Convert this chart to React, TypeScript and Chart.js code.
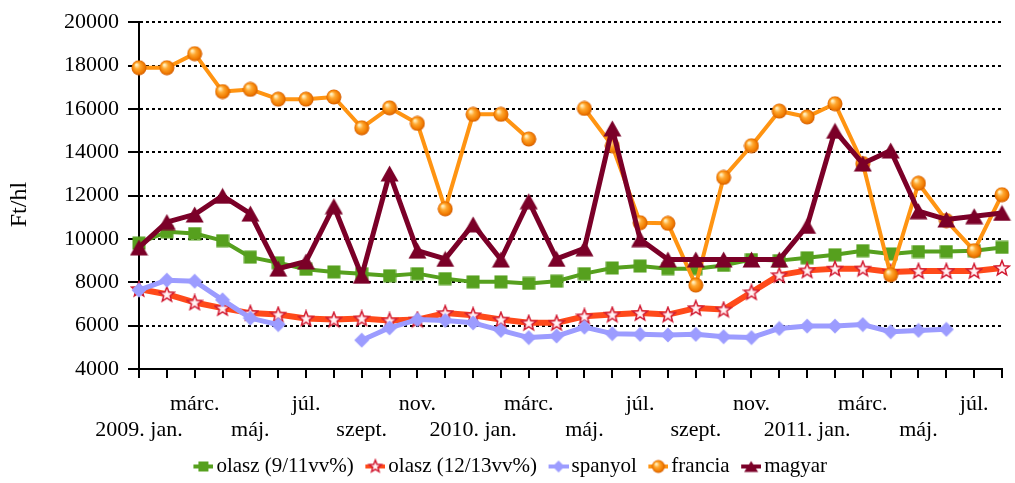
import React, { useEffect, useRef } from 'react';
import { Chart, registerables } from 'chart.js';

Chart.register(...registerables);

const categories = [
  '2009. jan.', 'febr.', 'márc.', 'ápr.', 'máj.', 'jún.', 'júl.', 'aug.', 'szept.', 'okt.', 'nov.', 'dec.',
  '2010. jan.', 'febr.', 'márc.', 'ápr.', 'máj.', 'jún.', 'júl.', 'aug.', 'szept.', 'okt.', 'nov.', 'dec.',
  '2011. jan.', 'febr.', 'márc.', 'ápr.', 'máj.', 'jún.', 'júl.', 'aug.',
];

const olasz911 = [9810, 10330, 10250, 9920, 9160, 8900, 8600, 8480, 8400, 8300, 8400, 8170, 8020, 8020, 7950, 8050, 8400, 8660, 8750, 8630, 8630, 8780, 9050, 9000, 9130, 9270, 9460, 9310, 9420, 9420, 9460, 9610];
const olasz1213 = [7690, 7450, 7070, 6810, 6580, 6510, 6330, 6280, 6330, 6240, 6280, 6580, 6480, 6280, 6130, 6130, 6430, 6510, 6580, 6510, 6810, 6740, 7540, 8330, 8550, 8630, 8630, 8480, 8520, 8520, 8520, 8660];
const spanyol = [7640, 8100, 8050, 7190, 6350, 6050, null, null, 5330, 5900, 6280, 6240, 6130, 5780, 5450, 5520, 5930, 5630, 5600, 5570, 5600, 5490, 5450, 5870, 5980, 5980, 6050, 5720, 5780, 5830, null, null];
const francia = [17900, 17900, 18550, 16800, 16900, 16450, 16450, 16550, 15130, 16050, 15330, 11390, 15750, 15750, 14610, null, 16020, 14300, 10750, 10720, 7870, 12840, 14300, 15900, 15630, 16240, 13480, 8350, 12570, 10850, 9460, 12040];
const magyar = [9610, 10780, 11130, 11990, 11170, 8630, 8960, 11510, 8300, 13020, 9460, 9080, 10670, 9050, 11740, 9080, 9570, 15100, 9990, 9050, 9050, 9050, 9050, 9050, 10600, 14990, 13480, 14080, 11280, 10900, 11050, 11200];

const seriesLabels = ['olasz (9/11vv%)', 'olasz (12/13vv%)', 'spanyol', 'francia', 'magyar'];
const yAxisTitle = 'Ft/hl';
const yMin = 4000;
const yMax = 20000;
const yStep = 2000;

const FONT = "'Liberation Serif', 'Times New Roman', serif";
const GREEN = '#56A01E';
const RED = '#FF4A1A';
const LAVENDER = '#9C9CFF';
const ORANGE = '#FF9412';
const MAROON = '#7B0028';

type Ctx = CanvasRenderingContext2D;

function makeCanvas(w: number, h: number, draw: (ctx: Ctx) => void) {
  const c = document.createElement('canvas');
  c.width = w;
  c.height = h;
  const ctx = c.getContext('2d') as Ctx;
  draw(ctx);
  return c;
}

function square(ctx: Ctx, cx: number, cy: number, s: number) {
  ctx.fillStyle = GREEN;
  ctx.fillRect(cx - s / 2, cy - s / 2, s, s);
}
function diamond(ctx: Ctx, cx: number, cy: number, r: number) {
  ctx.fillStyle = LAVENDER;
  ctx.beginPath();
  ctx.moveTo(cx, cy - r);
  ctx.lineTo(cx + r, cy);
  ctx.lineTo(cx, cy + r);
  ctx.lineTo(cx - r, cy);
  ctx.closePath();
  ctx.fill();
}
function triangle(ctx: Ctx, cx: number, cy: number, w: number, h: number) {
  ctx.fillStyle = MAROON;
  ctx.beginPath();
  ctx.moveTo(cx, cy - h / 2);
  ctx.lineTo(cx + w / 2, cy + h / 2);
  ctx.lineTo(cx - w / 2, cy + h / 2);
  ctx.closePath();
  ctx.fill();
}
function star(ctx: Ctx, cx: number, cy: number, R: number, r: number) {
  ctx.beginPath();
  for (let i = 0; i < 10; i++) {
    const rad = i % 2 === 0 ? R : r;
    const a = -Math.PI / 2 + (i * Math.PI) / 5;
    const x = cx + Math.cos(a) * rad;
    const y = cy + Math.sin(a) * rad;
    if (i === 0) ctx.moveTo(x, y);
    else ctx.lineTo(x, y);
  }
  ctx.closePath();
  const g = ctx.createRadialGradient(cx, cy, 0, cx, cy, R);
  g.addColorStop(0, '#FFFFFF');
  g.addColorStop(1, '#FFB0B8');
  ctx.fillStyle = g;
  ctx.fill();
  ctx.lineWidth = 1.4;
  ctx.strokeStyle = '#D01830';
  ctx.stroke();
}
function sphere(ctx: Ctx, cx: number, cy: number, R: number) {
  const g = ctx.createRadialGradient(cx - R * 0.35, cy - R * 0.4, R * 0.1, cx, cy, R);
  g.addColorStop(0, '#FFF0C0');
  g.addColorStop(0.35, '#FFA830');
  g.addColorStop(0.8, '#F07A00');
  g.addColorStop(1, '#D05A00');
  ctx.fillStyle = g;
  ctx.beginPath();
  ctx.arc(cx, cy, R, 0, Math.PI * 2);
  ctx.fill();
}

function legendImg(color: string, width: number, marker: (ctx: Ctx, cx: number, cy: number) => void) {
  return makeCanvas(33, 18, (ctx) => {
    ctx.strokeStyle = color;
    ctx.lineWidth = width;
    ctx.beginPath();
    ctx.moveTo(13, 9);
    ctx.lineTo(33, 9);
    ctx.stroke();
    marker(ctx, 23, 9);
  });
}

export default function App() {
  const ref = useRef<HTMLCanvasElement | null>(null);

  useEffect(() => {
    if (!ref.current) return;
    const pSquare = makeCanvas(14, 14, (c) => square(c, 7, 7, 13));
    const pDiamond = makeCanvas(16, 16, (c) => diamond(c, 8, 8, 7.5));
    const pTriangle = makeCanvas(19, 17, (c) => triangle(c, 9.5, 8.5, 18, 16));
    const pStar = makeCanvas(18, 18, (c) => star(c, 9, 9.5, 8, 3.4));
    const pSphere = makeCanvas(16, 16, (c) => sphere(c, 8, 8, 7.5));

    const legendImgs = [
      legendImg(GREEN, 4, (c, x, y) => square(c, x, y, 10)),
      legendImg(RED, 4, (c, x, y) => star(c, x, y, 6.5, 2.8)),
      legendImg(LAVENDER, 4, (c, x, y) => diamond(c, x, y, 6)),
      legendImg(ORANGE, 4, (c, x, y) => sphere(c, x, y, 6.5)),
      legendImg(MAROON, 4, (c, x, y) => triangle(c, x, y, 14, 11)),
    ];

    const common = { clip: false as any, tension: 0, spanGaps: false, borderJoinStyle: 'round' as const, pointRadius: 7, pointHoverRadius: 7 };

    const chart = new Chart(ref.current, {
      type: 'line',
      data: {
        labels: categories,
        datasets: [
          { ...common, label: seriesLabels[0], data: olasz911, borderColor: GREEN, backgroundColor: GREEN, borderWidth: 4, pointStyle: pSquare, order: 5 },
          { ...common, label: seriesLabels[1], data: olasz1213, borderColor: RED, backgroundColor: RED, borderWidth: 6, pointStyle: pStar, order: 4 },
          { ...common, label: seriesLabels[2], data: spanyol, borderColor: LAVENDER, backgroundColor: LAVENDER, borderWidth: 5, pointStyle: pDiamond, order: 3 },
          { ...common, label: seriesLabels[3], data: francia, borderColor: ORANGE, backgroundColor: ORANGE, borderWidth: 4, pointStyle: pSphere, order: 2 },
          { ...common, label: seriesLabels[4], data: magyar, borderColor: MAROON, backgroundColor: MAROON, borderWidth: 5, pointStyle: pTriangle, order: 1 },
        ] as any,
      },
      options: {
        animation: false,
        responsive: false,
        events: [],
        layout: { padding: { top: 16, right: 0, bottom: -4, left: 0 } },
        scales: {
          x: {
            type: 'category',
            offset: false,
            grid: { display: true, drawOnChartArea: false, drawTicks: true, tickLength: 9, color: '#000', lineWidth: 2, tickColor: '#000', tickWidth: 2 },
            border: { display: true, color: '#000', width: 2 },
            ticks: {
              autoSkip: false,
              maxRotation: 0,
              minRotation: 0,
              padding: 13,
              color: '#000',
              font: { family: FONT, size: 22 },
              callback: (_v: any, index: number) => {
                const lab = categories[index];
                if (index % 4 === 2) return lab;
                if (index % 4 === 0) return ['', lab];
                return '';
              },
            },
            afterFit: (s: any) => { s.height = 81; },
          },
          y: {
            min: yMin,
            max: yMax,
            ticks: { stepSize: yStep, padding: 9, color: '#000', font: { family: FONT, size: 22 }, callback: (v: any) => String(v) },
            grid: { color: '#000', lineWidth: 2, tickLength: 11, tickColor: '#000', tickWidth: 2, tickBorderDash: [] },
            border: { display: true, color: '#000', width: 2, dash: [3, 3] },
            title: { display: true, text: yAxisTitle + '\u0020\u0020\u0020', color: '#000', font: { family: FONT, size: 24 }, padding: { top: 5, bottom: 0 } },
            afterFit: (s: any) => { s.width = 139; },
          },
        },
        plugins: {
          tooltip: { enabled: false },
          legend: {
            position: 'bottom',
            labels: {
              usePointStyle: true,
              pointStyleWidth: 18,
              padding: 6,
              color: '#000',
              font: { family: FONT, size: 21 },
              sort: (a: any, b: any) => a.datasetIndex - b.datasetIndex,
              generateLabels: (ch: any) => {
                const items = (Chart.defaults.plugins.legend.labels as any).generateLabels(ch);
                return items.map((it: any) => ({ ...it, pointStyle: legendImgs[it.datasetIndex] }));
              },
            },
          },
        },
      } as any,
    });
    return () => chart.destroy();
  }, []);

  return (
    <div style={{ position: 'absolute', left: 0, top: 0, width: 1015, height: 483 }}>
      <canvas ref={ref} width={1015} height={483} style={{ display: 'block', width: 1015, height: 483 }} />
    </div>
  );
}
